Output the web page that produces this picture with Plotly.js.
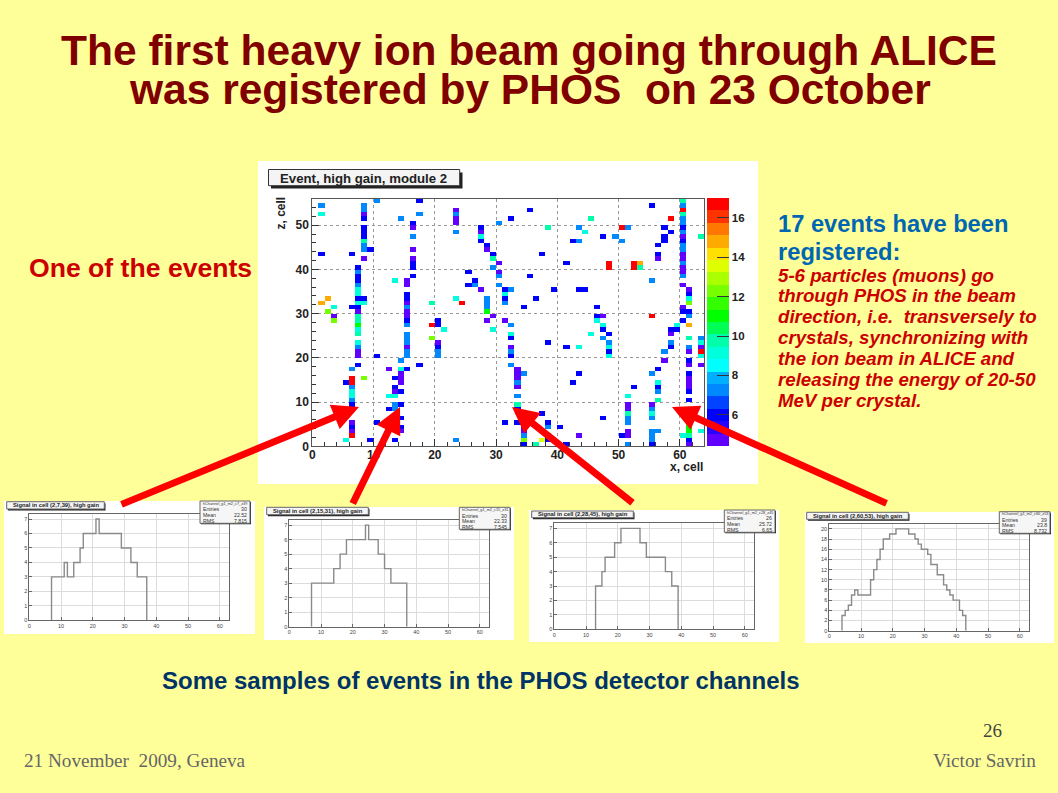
<!DOCTYPE html>
<html><head><meta charset="utf-8">
<script src="https://cdn.plot.ly/plotly-3.0.1.min.js"></script>
<style>html,body{margin:0;padding:0;background:#ffff99}</style></head>
<body><div id="chart" style="width:1058px;height:793px"></div>
<script>
// Cells of the event display, as [column, row], grouped by signal level
const purpleCells=[[8,52],[8,42],[16,49],[16,44],[16,42],[15,37],[15,36],[15,32],[15,30],[15,29],[23,53],[23,51],[23,50],[27,48],[28,44],[30,41],[30,39],[27,35],[28,28],[29,29],[31,28],[3,29],[7,30],[7,21],[7,20],[6,5],[6,3],[15,22],[12,17],[14,16],[14,15],[14,14],[13,12],[14,3],[20,23],[56,42],[60,47],[60,43],[60,42],[60,40],[60,39],[60,36],[61,35],[60,31],[47,29],[33,17],[33,16],[33,15],[33,13],[32,22],[34,4],[34,3],[38,2],[43,2],[51,9],[51,8],[51,3],[51,2],[58,25],[57,19],[61,21],[61,18],[63,22],[63,18],[61,15],[61,14],[61,13],[55,9],[61,0]];
const blueCells=[[17,55],[8,51],[8,49],[8,48],[8,47],[9,44],[1,43],[6,43],[16,50],[16,41],[16,40],[16,38],[27,49],[27,46],[28,45],[29,43],[25,39],[26,37],[25,36],[31,35],[31,33],[7,40],[7,38],[7,37],[7,33],[8,33],[6,31],[7,31],[20,28],[20,27],[15,34],[15,33],[15,28],[7,18],[5,14],[6,9],[6,8],[6,4],[9,1],[13,1],[10,20],[10,5],[17,18],[15,17],[13,15],[13,13],[14,12],[14,9],[12,8],[14,6],[14,4],[20,22],[31,5],[35,53],[32,51],[42,46],[47,47],[55,54],[57,49],[58,48],[57,47],[57,46],[56,45],[56,43],[37,43],[41,41],[60,49],[60,46],[35,38],[61,34],[60,30],[61,30],[60,28],[36,33],[39,35],[43,35],[44,35],[34,31],[46,31],[46,29],[32,24],[32,20],[33,8],[33,5],[34,0],[38,5],[38,1],[37,7],[40,4],[41,0],[38,23],[41,22],[47,26],[48,25],[48,21],[43,16],[42,14],[52,13],[47,6],[50,2],[55,0],[56,17],[56,13],[58,22],[58,26],[59,26],[61,19],[61,16],[61,12],[61,10],[61,1]];
const azureCells=[[1,54],[10,55],[8,54],[8,53],[8,45],[8,44],[14,51],[17,52],[16,47],[23,52],[23,48],[30,50],[29,40],[30,38],[26,36],[30,36],[31,32],[28,33],[28,32],[28,31],[7,39],[7,36],[15,31],[7,22],[15,27],[15,25],[15,24],[15,23],[15,21],[15,20],[14,19],[6,17],[6,13],[6,10],[13,9],[13,8],[23,1],[20,21],[20,20],[51,49],[43,49],[49,47],[50,46],[43,46],[60,54],[60,51],[60,50],[60,48],[60,45],[60,44],[60,41],[60,38],[55,37],[32,35],[61,29],[32,27],[32,21],[32,18],[34,16],[33,14],[33,11],[38,4],[34,2],[47,24],[48,23],[51,6],[51,5],[51,0],[55,16],[56,12],[55,8],[55,6],[55,3],[56,3],[55,2],[55,1],[57,21],[58,23],[61,22],[63,24]];
const cyanCells=[[1,52],[13,37],[27,47],[3,31],[7,35],[7,34],[7,32],[8,32],[31,34],[7,26],[7,23],[14,17],[12,11],[13,11],[5,1],[21,26],[29,26],[44,48],[46,28],[47,27],[59,27],[32,25],[61,33],[43,22],[48,22],[45,25],[48,20],[56,14],[51,11],[55,7],[60,2],[63,3],[63,23],[63,20],[6,12],[6,11],[23,33]];
const aquaGreenCells=[[8,46],[19,32],[29,42],[7,29],[7,28],[7,25],[38,49],[45,51],[60,55],[60,52],[63,47],[53,40],[33,9],[36,0],[51,7],[56,10],[61,24],[61,2]];
const greenCells=[[7,27],[28,30],[61,4],[61,3]];
const limeCells=[[2,30],[3,28],[19,24],[8,15],[61,5],[61,32],[34,1]];
const yellowCells=[[37,1]];
const orangeCells=[[1,32],[2,33],[53,41],[61,27]];
const redCells=[[24,32],[19,27],[6,15],[6,14],[6,2],[50,49],[58,51],[48,41],[48,40],[52,41],[52,40],[60,53],[55,29],[63,21]];
const signalLevels=[4.7,6,7.4,8.9,9.7,11,12.3,13.5,14.8,16.7];
const paletteTopDown=['#ff0000','#ff3300','#ff7700','#ffaa00','#ffe000','#ddff00','#aaff00','#77ff00','#33ff00','#00ff00','#00ff55','#00ffaa','#00ffdd','#00ffff','#00b0ff','#0088ff','#0044ff','#0000ff','#2800ff','#6000ff'];

// Signal histograms: bin contents from bin 0 upward
const hist1Bins=[0,0,0,0,0,0,0,3,3,3,3,4,3,3,4,4,5,6,6,6,6,7,6,6,6,6,6,6,6,5,5,5,4,4,3,3,3,0];
const hist2Bins=[0,0,0,0,0,0,0,3,3,3,3,3,3,3,4,4,5,5,6,6,6,6,6,6,7,6,6,6,5,5,4,4,3,3,3,3,3,0];
const hist3Bins=[0,0,0,0,0,0,0,0,0,0,0,0,0,3,3,4,5,5,5,6,6,7,7,7,7,7,7,6,6,5,5,5,5,5,5,4,4,3,3,0];
const hist4Bins=[0,0,0,0,3,4,5,7,8,7,7,7,7,10,12,14,16,18,18,19,19,20,20,20,20,19,19,18,17,16,16,15,13,13,11,11,9,8,7,6,6,4,3,0];
const histTitles=['Signal in cell (2,7,39), high gain','Signal in cell (2,15,31), high gain','Signal in cell (2,28,45), high gain','Signal in cell (2,60,53), high gain'];
const histNames=['hChannel_g1_m2_c7_z39','hChannel_g1_m2_c15_z31','hChannel_g1_m2_c28_z45','hChannel_g1_m2_c60_z53'];
const histEntries=['30','30','26','39'];
const histMeans=['22.52','22.33','25.72','23.8'];
const histRms=['7.815','7.545','6.65','8.732'];

const W=1058,H=793;
const px=x=>x/W, py=y=>1-y/H;
const cols=64,rows=56;
const z=[];for(let r=0;r<rows;r++){z.push(new Array(cols).fill(null));}
[purpleCells,blueCells,azureCells,cyanCells,aquaGreenCells,greenCells,limeCells,yellowCells,orangeCells,redCells].forEach((list,i)=>{
  list.forEach(c=>{z[c[1]][c[0]]=signalLevels[i];});
});
const cx=[];for(let i=0;i<cols;i++)cx.push(i+0.5);
const cy=[];for(let i=0;i<rows;i++)cy.push(i+0.5);
const bottomUp=paletteTopDown.slice().reverse();
const colorscale=[];bottomUp.forEach((c,i)=>{colorscale.push([i/20,c]);colorscale.push([(i+1)/20,c]);});

const traces=[{type:'heatmap',x:cx,y:cy,z:z,zmin:4.4,zmax:17,colorscale:colorscale,hoverinfo:'skip',
  colorbar:{x:px(707),xanchor:'left',xpad:0,y:py(446.3),yanchor:'bottom',ypad:0,len:247.6/H,lenmode:'fraction',thickness:22.3,thicknessmode:'pixels',
    outlinewidth:0,tickvals:[6,8,10,12,14,16],ticks:'inside',ticklen:12,tickcolor:'#333',tickwidth:1,
    tickfont:{family:'Liberation Sans',size:11.5,color:'#222',weight:'bold'}}}];

const axisFont={family:'Liberation Sans',size:12,color:'#222',weight:'bold'};
const layout={width:W,height:H,margin:{l:0,r:0,t:0,b:0},paper_bgcolor:'#ffff99',plot_bgcolor:'rgba(0,0,0,0)',showlegend:false,
  title:{text:'<b>The first heavy ion beam going through ALICE</b>',x:529/W,xanchor:'center',y:py(50),yanchor:'middle',font:{family:'Liberation Sans',size:42.5,color:'#800000'}},
  xaxis:{domain:[px(312.3),px(704.3)],range:[0,64],dtick:10,tick0:0,ticks:'inside',ticklen:7,tickcolor:'#333',showline:true,mirror:true,linecolor:'#555',linewidth:1,showgrid:true,gridcolor:'#999',griddash:'dot',zeroline:false,ticklabelstandoff:-3,
    minor:{dtick:2,ticks:'inside',ticklen:4,tickcolor:'#333',showgrid:false},tickfont:axisFont},
  yaxis:{domain:[py(446.3),py(198.7)],range:[0,56],dtick:10,tick0:0,ticks:'inside',ticklen:7,tickcolor:'#333',showline:true,mirror:true,linecolor:'#555',linewidth:1,showgrid:true,gridcolor:'#999',griddash:'dot',zeroline:false,
    minor:{dtick:2,ticks:'inside',ticklen:4,tickcolor:'#333',showgrid:false},tickfont:axisFont},
  shapes:[],annotations:[]};

function rect(x0,y0,x1,y1,fill,line,layer){layout.shapes.push({type:'rect',xref:'paper',yref:'paper',x0:px(x0),x1:px(x1),y0:py(y1),y1:py(y0),fillcolor:fill,line:line?{color:line,width:1}:{width:0},layer:layer||'below'});}
function text(t,x,y,size,color,anchor,opts){layout.annotations.push({text:t,xref:'paper',yref:'paper',x:px(x),y:py(y),xanchor:anchor||'left',yanchor:'middle',showarrow:false,align:anchor||'left',borderpad:0,font:{family:(opts&&opts.family)||'Liberation Sans',size:size,color:color}});}

// white backdrops
rect(258,161,758,484,'#ffffff');
const geo=[
 {box:[4,501,255,634],x0:29.3,x1:229.3,y0:620.3,y1:513.7,top:7.37,t:[6.7,501.7,104.3,509],s:[200,501,250,523.3],dt:1},
 {box:[264,507,514,640],x0:289.3,x1:489.3,y0:626.7,y1:520,top:7.35,t:[266.7,507.3,368.3,514.7],s:[459.3,507.3,510,529.3],dt:1},
 {box:[529,510,779,642],x0:554.3,x1:754.3,y0:629.3,y1:523.3,top:7.35,t:[531.7,511,633.3,517.7],s:[724.3,510,775,532.3],dt:1},
 {box:[805,512,1054,643],x0:829.3,x1:1029.3,y0:630.7,y1:524.3,top:20.9,t:[806.7,512.3,908.3,519.3],s:[999.3,511.7,1050,533.3],dt:2}];
const bins=[hist1Bins,hist2Bins,hist3Bins,hist4Bins];
geo.forEach((g,i)=>{
  rect(g.box[0],g.box[1],g.box[2],g.box[3],'#ffffff');
  const n=i+2;
  const first=bins[i].findIndex(v=>v>0);
  const hx=[first],hy=[0];
  bins[i].forEach((v,k)=>{if(k>=first){hx.push(k);hy.push(v);}});
  traces.push({type:'scatter',mode:'lines',x:hx,y:hy,xaxis:'x'+n,yaxis:'y'+n,line:{shape:'hv',color:'#8a8a8a',width:1.4},hoverinfo:'skip'});
  const common={showline:true,mirror:true,linecolor:'#666',linewidth:1,ticks:'inside',ticklen:3,tickcolor:'#666',showgrid:true,gridcolor:'#dcdcdc',gridwidth:1,zeroline:false,tickfont:{family:'Liberation Sans',size:5.5,color:'#444'}};
  layout['xaxis'+n]=Object.assign({domain:[px(g.x0),px(g.x1)],range:[0,63],dtick:10,tick0:0,anchor:'y'+n},common);
  layout['yaxis'+n]=Object.assign({domain:[py(g.y0),py(g.y1)],range:[0,g.top],dtick:g.dt,tick0:0,anchor:'x'+n},common);
  const t=g.t,s=g.s;
  rect(t[0]+1.2,t[1]+1.5,t[2]+1.2,t[3]+1.5,'#222','','above');
  rect(t[0],t[1],t[2],t[3],'#f4f4f4','#666','above');
  text('<b>'+histTitles[i]+'</b>',(t[0]+t[2])/2,(t[1]+t[3])/2,5.8,'#222','center');
  rect(s[0]+1,s[1]+1,s[2]+1,s[3]+1,'#222','','above');
  rect(s[0],s[1],s[2],s[3],'#f6f6f6','#666','above');
  const rh=(s[3]-s[1])/4;
  text(histNames[i],(s[0]+s[2])/2,s[1]+rh/2,3.8,'#333','center');
  const labs=['Entries','Mean','RMS'],vals=[histEntries[i],histMeans[i],histRms[i]];
  labs.forEach((l,k)=>{
    text(l,s[0]+2,s[1]+rh*(k+1.5),5.2,'#333','left');
    text(vals[k],s[2]-2,s[1]+rh*(k+1.5),5.2,'#333','right');
  });
});

// Main plot's frame labels
rect(271,172.5,462.5,188.5,'#222','','above');
rect(268.5,169.5,459.7,185.7,'#f4f4f4','#333','above');
text('<b>Event, high gain, module 2</b>',279,178,13.2,'#222','left');
layout.annotations.push({text:'<b>z, cell</b>',xref:'paper',yref:'paper',x:px(281),y:py(213.5),xanchor:'center',yanchor:'middle',textangle:-90,showarrow:false,font:{family:'Liberation Sans',size:12,color:'#222'}});
text('<b>x, cell</b>',704,467,12,'#222','right');

// Slide text
text('<b>was registered by PHOS  on 23 October</b>',530,90,42.5,'#800000','center');
text('<b>One of the events</b>',28,268,26.6,'#cc0000','left');
text('<b>17 events have been</b>',777,224,23.7,'#0066b3','left');
text('<b>registered:</b>',777,252,23.7,'#0066b3','left');
['5-6 particles (muons) go','through PHOS in the beam','direction, i.e.  transversely to','crystals, synchronizing with','the ion beam in ALICE and','releasing the energy of 20-50','MeV per crystal.'].forEach((l,i)=>{
  text('<b><i>'+l+'</i></b>',777,275+i*20.85,18.7,'#cc0000','left');
});
text('<b>Some samples of events in the PHOS detector channels</b>',161,680,24,'#003366','left');
text('26',1003,730,19,'#444','right',{family:'Liberation Serif'});
text('21 November  2009, Geneva',23,760,19.2,'#666','left',{family:'Liberation Serif'});
text('Victor Savrin',1037,760,19.2,'#666','right',{family:'Liberation Serif'});

// Arrows
[[120,505,359,407],[352,505,400,407],[634,504,512,407],[888,504,672,407]].forEach(a=>{
  layout.annotations.push({xref:'paper',yref:'paper',x:px(a[2]),y:py(a[3]),ax:a[0]-a[2],ay:a[1]-a[3],axref:'pixel',ayref:'pixel',showarrow:true,arrowhead:2,arrowsize:0.75,arrowwidth:7,arrowcolor:'#ff0000',text:''});
});

Plotly.newPlot('chart',traces,layout,{displayModeBar:false,staticPlot:true});
</script></body></html>
